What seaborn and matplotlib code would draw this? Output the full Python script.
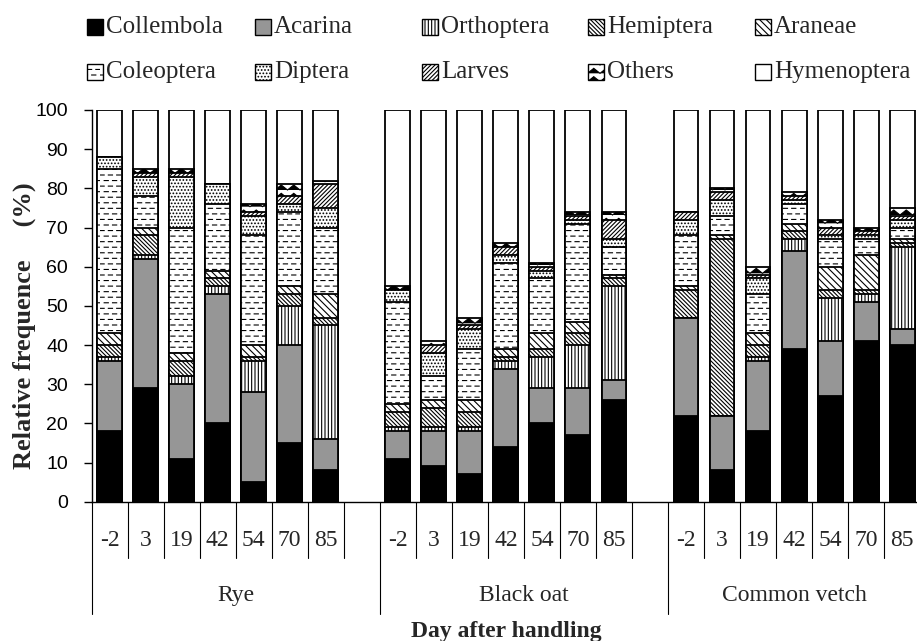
import numpy as np
import pandas as pd
import matplotlib
matplotlib.use("Agg")
import matplotlib.pyplot as plt
import matplotlib.hatch as mhatch
from matplotlib.path import Path
from matplotlib.patches import Rectangle
from matplotlib.transforms import blended_transform_factory
import seaborn as sns

# ---------------- data (percent of each taxon, per crop x day) ----------------
crops = ["Rye", "Black oat", "Common vetch"]
days = ["-2", "3", "19", "42", "54", "70", "85"]
taxa = ["Collembola", "Acarina", "Orthoptera", "Hemiptera", "Araneae",
        "Coleoptera", "Diptera", "Larves", "Others", "Hymenoptera"]

#              Rye: -2  3  19  42  54  70  85 | Black oat                | Common vetch
collembola  = [18, 29, 11, 20,  5, 15,  8,   11,  9,  7, 14, 20, 17, 26,   22,  8, 18, 39, 27, 41, 40]
acarina     = [18, 33, 19, 33, 23, 25,  8,    7,  9, 11, 20,  9, 12,  5,   25, 14, 18, 25, 14, 10,  4]
orthoptera  = [ 1,  1,  2,  2,  8, 10, 29,    1,  1,  1,  2,  8, 11, 24,    0,  0,  1,  3, 11,  2, 21]
hemiptera   = [ 3,  5,  4,  2,  1,  3,  2,    4,  5,  4,  1,  2,  3,  2,    7, 45,  3,  2,  2,  1,  1]
araneae     = [ 3,  2,  2,  2,  3,  2,  6,    2,  2,  3,  2,  4,  3,  1,    1,  1,  3,  2,  6,  9,  1]
coleoptera  = [42,  8, 32, 17, 28, 19, 17,   26,  6, 13, 22, 14, 25,  7,   13,  5, 10,  5,  7,  4,  3]
diptera     = [ 3,  5, 13,  5,  5,  2,  5,    3,  6,  5,  2,  2,  1,  2,    4,  4,  4,  1,  1,  1,  2]
larves      = [ 0,  1,  1,  0,  1,  2,  6,    0,  2,  1,  2,  1,  1,  5,    2,  2,  1,  1,  2,  1,  1]
others      = [ 0,  1,  1,  0,  2,  3,  1,    1,  1,  2,  1,  1,  1,  2,    0,  1,  2,  1,  2,  1,  2]
hymenoptera = [12, 15, 15, 19, 24, 19, 18,   45, 59, 53, 34, 39, 26, 26,   26, 20, 40, 21, 28, 30, 25]

series = dict(zip(taxa, [collembola, acarina, orthoptera, hemiptera, araneae,
                         coleoptera, diptera, larves, others, hymenoptera]))

# ---------------- custom hatch patterns (dashes for '-', zigzag for '*') -------
class DashRows(mhatch.HatchPatternBase):
    def __init__(self, hatch, density):
        n = hatch.count("-")
        self.num_rows = int(n * density)
        self.num_cols = 12
        self.num_vertices = self.num_rows * self.num_cols * 2 if n else 0

    def set_vertices_and_codes(self, vertices, codes):
        k = 0
        dx = 1.0 / self.num_cols
        for r in range(self.num_rows):
            y = (r + 0.5) / self.num_rows
            off = 0.5 * dx if r % 2 else 0.0
            for c in range(self.num_cols):
                x0 = c * dx + off
                vertices[k] = (x0, y)
                vertices[k + 1] = (x0 + 0.5 * dx, y)
                codes[k] = Path.MOVETO
                codes[k + 1] = Path.LINETO
                k += 2


class ZigZag(mhatch.HatchPatternBase):
    def __init__(self, hatch, density):
        n = hatch.count("*")
        self.num_rows = int(n * density)
        self.num_seg = 16
        self.num_vertices = self.num_rows * (self.num_seg + 1) if n else 0

    def set_vertices_and_codes(self, vertices, codes):
        k = 0
        h = 0.3 / self.num_rows
        for r in range(self.num_rows):
            y = (r + 0.5) / self.num_rows
            for s in range(self.num_seg + 1):
                vertices[k] = (s / self.num_seg, y + (h if s % 2 else -h))
                codes[k] = Path.MOVETO if s == 0 else Path.LINETO
                k += 1


mhatch._hatch_types = [DashRows if c is mhatch.HorizontalHatch else
                       ZigZag if c is mhatch.Stars else c
                       for c in mhatch._hatch_types]

styles = {
    "Collembola": ("black", None),
    "Acarina": ("#969696", None),
    "Orthoptera": ("white", "|||||"),
    "Hemiptera": ("white", "\\" * 8),
    "Araneae": ("white", "\\" * 5),
    "Coleoptera": ("white", "---"),
    "Diptera": ("white", "....."),
    "Larves": ("white", "/" * 8),
    "Others": ("white", "**"),
    "Hymenoptera": ("white", None),
}

# ---------------- long table with cumulative tops ----------------
order = []
for gi, crop in enumerate(crops):
    order += [f"{crop}|{d}" for d in days]
    if gi < len(crops) - 1:
        order.append(f"{crop}|gap")

rows = []
for gi, crop in enumerate(crops):
    for di, d in enumerate(days):
        cum = 0
        for t in taxa:
            v = series[t][gi * len(days) + di]
            cum += v
            rows.append(dict(slot=f"{crop}|{d}", taxon=t, value=v, cum=cum))
df = pd.DataFrame(rows)

# ---------------- figure ----------------
sns.set_style("ticks")
plt.rcParams["font.family"] = ["Liberation Serif", "DejaVu Serif"]
plt.rcParams["hatch.linewidth"] = 0.8
plt.rcParams["hatch.color"] = "black"

W, H = 917, 641
fig = plt.figure(figsize=(W / 100, H / 100), dpi=100)
x0px, y0px, y100px, slotpx = 91.5, 501.7, 110.0, 36.03
nslots = len(order)
ax = fig.add_axes([x0px / W, (H - y0px) / H,
                   nslots * slotpx / W, (y0px - y100px) / H])

for t in reversed(taxa):
    fc, h = styles[t]
    sns.barplot(data=df[df.taxon == t], x="slot", y="cum", order=order, ax=ax,
                color=fc, saturation=1, width=0.69, edgecolor="black",
                linewidth=1.3, hatch=h, errorbar=None)

ax.set_xlim(-0.5, nslots - 0.5)
ax.set_ylim(0, 100)
ax.set_yticks(range(0, 101, 10))
ax.set_xticks([])
ax.set_xlabel("")
ax.set_ylabel("")
for s in ("top", "right"):
    ax.spines[s].set_visible(False)
for s in ("left", "bottom"):
    ax.spines[s].set_linewidth(1.0)
    ax.spines[s].set_color("black")
ax.tick_params(axis="y", length=6, width=1, pad=11, labelsize=14,
               direction="out", colors="black")
for lab in ax.get_yticklabels():
    lab.set_fontfamily("Liberation Sans")

# multi-level category axis
trans = blended_transform_factory(ax.transData, ax.transAxes)
ax_h = y0px - y100px
short = -56 / ax_h
long_ = -112 / ax_h
for gi, crop in enumerate(crops):
    start = gi * 8
    ax.plot([start - 0.5] * 2, [0, long_], transform=trans, color="black",
            lw=0.8, clip_on=False)
    for di, d in enumerate(days):
        ax.text(start + di, -39 / ax_h, d, transform=trans, ha="center",
                va="center", fontsize=17, clip_on=False)
        ax.plot([start + di + 0.5] * 2, [0, short], transform=trans,
                color="black", lw=0.8, clip_on=False)
    n_in_group = 8 if gi < len(crops) - 1 else 7
    ax.text(start - 0.5 + n_in_group / 2, -94 / ax_h, crop, transform=trans,
            ha="center", va="center", fontsize=17, clip_on=False)

ax.text(0.5, -130 / ax_h, "Day after handling", transform=ax.transAxes,
        ha="center", va="center", fontsize=17, fontweight="bold")
ax.text(-67 / (nslots * slotpx), 0.45, "Relative frequence     (%)",
        transform=ax.transAxes, rotation=90, ha="center", va="center",
        fontsize=19, fontweight="bold")

# legend as a uniform 5x2 grid
col_x = [87, 255, 422, 588, 755]
row_y = [27, 72]
box = 16
for i, t in enumerate(taxa):
    r, c = divmod(i, 5)
    fc, h = styles[t]
    xp, yp = col_x[c], row_y[r]
    fig.add_artist(Rectangle((xp / W, (H - yp - box / 2) / H), box / W, box / H,
                             transform=fig.transFigure, facecolor=fc,
                             edgecolor="black", linewidth=1.0, hatch=h))
    fig.text((xp + box + 3) / W, (H - yp) / H, t, ha="left", va="center",
             fontsize=18)

fig.savefig("out.png", dpi=100, facecolor="white")
